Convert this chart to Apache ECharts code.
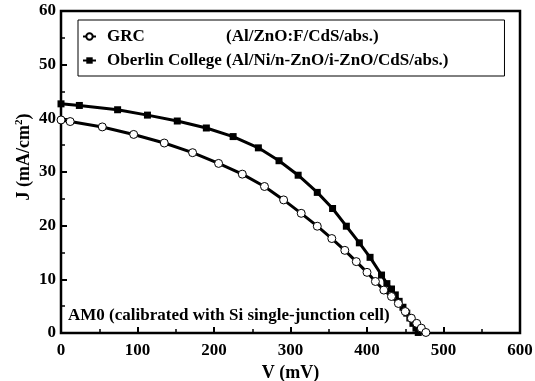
<!DOCTYPE html>
<html>
<head>
<meta charset="utf-8">
<script src="https://cdn.jsdelivr.net/npm/echarts@6/dist/echarts.min.js"></script>
<style>
  html, body { margin: 0; padding: 0; background: #fff; }
  #chart { width: 535px; height: 381px; }
</style>
</head>
<body>
<div id="chart"></div>
<script>
// J-V curves (V in mV, J in mA/cm2)
const grcV = [0, 12, 54, 95, 135, 172, 206, 237, 266, 291, 314, 335, 354, 371, 386, 400, 411, 422, 432, 441, 450, 458, 465, 471, 477];
const grcJ = [39.7, 39.4, 38.4, 37.0, 35.4, 33.6, 31.6, 29.6, 27.3, 24.8, 22.3, 19.9, 17.6, 15.4, 13.3, 11.3, 9.6, 8.0, 6.8, 5.5, 4.0, 2.75, 1.8, 0.9, 0.1];

const oberlinV = [0, 24, 74, 113, 152, 190, 225, 258, 285, 310, 335, 355, 373, 390, 404, 419, 426, 432, 437, 442, 447, 452, 456, 460, 464, 467];
const oberlinJ = [42.7, 42.4, 41.6, 40.6, 39.5, 38.2, 36.6, 34.5, 32.1, 29.4, 26.2, 23.2, 19.9, 16.8, 14.1, 10.8, 9.2, 8.2, 7.1, 5.9, 4.8, 3.7, 2.8, 1.8, 0.9, 0.1];

const seriesNames = ['GRC', 'Oberlin College'];
const seriesNotes = ['(Al/ZnO:F/CdS/abs.)', '(Al/Ni/n-ZnO/i-ZnO/CdS/abs.)'];

const font = 'Liberation Serif';

const zip = (xs, ys) => xs.map((x, i) => [x, ys[i]]);

const chart = echarts.init(document.getElementById('chart'));

const axisCommon = {
  axisLine: { lineStyle: { color: '#000', width: 2 } },
  axisTick: { inside: true, length: 6, lineStyle: { color: '#000', width: 2 } },
  minorTick: { show: true, splitNumber: 2, length: 4, lineStyle: { color: '#000', width: 1.5 } },
  splitLine: { show: false },
  axisLabel: { color: '#000', fontFamily: font, fontWeight: 'bold', fontSize: 17 },
  nameTextStyle: { color: '#000', fontFamily: font, fontWeight: 'bold', fontSize: 18 },
};

const richLegend = { fontFamily: font, fontWeight: 'bold', fontSize: 17, color: '#000' };

chart.setOption({
  animation: false,
  grid: {
    left: 61, right: 15, top: 11, bottom: 48,
    outerBoundsMode: 'none',
    show: true, borderColor: '#000', borderWidth: 2.5,
  },
  xAxis: {
    type: 'value', min: 0, max: 600, interval: 100,
    name: 'V (mV)', nameLocation: 'middle', nameGap: 30,
    ...axisCommon,
    axisLabel: { ...axisCommon.axisLabel, margin: 9 },
  },
  yAxis: {
    type: 'value', min: 0, max: 60, interval: 10,
    ...axisCommon,
    axisLabel: { ...axisCommon.axisLabel, margin: 5 },
  },
  legend: {
    left: 78, top: 20,
    orient: 'vertical',
    padding: [8, 56, 7, 4],
    itemGap: 7,
    itemWidth: 13, itemHeight: 8,
    borderColor: '#000', borderWidth: 1,
    backgroundColor: '#fff',
    data: seriesNames,
    formatter: (name) => '{a|' + name + '}{b|' + seriesNotes[seriesNames.indexOf(name)] + '}',
    textStyle: {
      ...richLegend,
      padding: [0, 0, 0, 6],
      rich: {
        a: { ...richLegend, width: 119 },
        b: { ...richLegend },
      },
    },
  },
  graphic: [
    {
      type: 'text', left: 68, top: 307, z: 100,
      style: {
        text: 'AM0 (calibrated with Si single-junction cell)',
        fill: '#000', font: 'bold 17px "Liberation Serif"',
      },
    },
    {
      // y-axis title with a real superscript
      type: 'text', x: 24, y: 157, rotation: Math.PI / 2, z: 100,
      style: {
        text: '{n|J (mA/cm}{s|2}{n|)}',
        align: 'center', verticalAlign: 'middle',
        rich: {
          n: { fontFamily: font, fontWeight: 'bold', fontSize: 18, color: '#000' },
          s: { fontFamily: font, fontWeight: 'bold', fontSize: 11, color: '#000', verticalAlign: 'top', padding: [0, 0, 10, 0] },
        },
      },
    },
  ],
  series: [
    {
      name: seriesNames[0], type: 'line',
      data: zip(grcV, grcJ),
      symbol: 'circle', symbolSize: 8,
      itemStyle: { color: '#fff', borderColor: '#000', borderWidth: 1 },
      lineStyle: { color: '#000', width: 3 },
      z: 3,
    },
    {
      name: seriesNames[1], type: 'line',
      data: zip(oberlinV, oberlinJ),
      symbol: 'rect', symbolSize: 7,
      itemStyle: { color: '#000', borderColor: '#000', borderWidth: 0 },
      lineStyle: { color: '#000', width: 3 },
      z: 2,
    },
  ],
});
</script>
</body>
</html>
